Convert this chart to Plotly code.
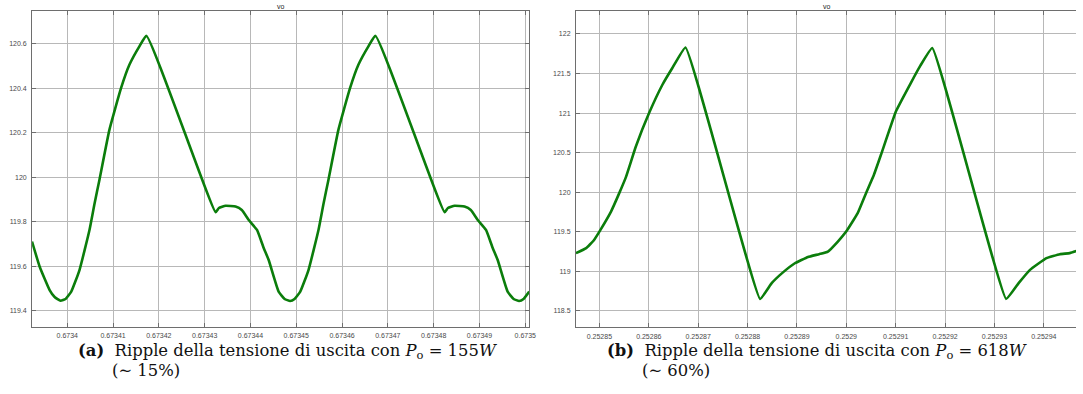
import plotly.graph_objects as go

W, H = 1083, 394

# ---------------- data ----------------
t_a = [0.6733923, 0.67339398, 0.67339615, 0.67339724, 0.67339854, 0.67339963, 0.67340087,
       0.67340267, 0.67340485, 0.67340594, 0.67340702, 0.6734092, 0.67341174, 0.67341354,
       0.67341572, 0.6734173, 0.67343239, 0.67343311, 0.67343457, 0.67343674, 0.67343811,
       0.67343963, 0.67344143, 0.67344289, 0.67344398, 0.67344615, 0.67344746, 0.67344865,
       0.67344963, 0.67345087, 0.67345267, 0.67345485, 0.67345594, 0.67345702, 0.6734592,
       0.67346174, 0.67346354, 0.67346572, 0.6734673, 0.67348239, 0.67348311, 0.67348457,
       0.67348674, 0.67348811, 0.67348963, 0.67349143, 0.67349289, 0.67349398, 0.67349615,
       0.67349746, 0.67349865, 0.67349963, 0.67350087]
vo_a = [119.711, 119.598, 119.493, 119.462, 119.445, 119.453, 119.486,
        119.583, 119.763, 119.880, 119.988, 120.213, 120.400, 120.504,
        120.587, 120.635, 119.843, 119.862, 119.872, 119.868, 119.853,
        119.808, 119.763, 119.682, 119.628, 119.486, 119.453, 119.444,
        119.453, 119.486, 119.583, 119.763, 119.880, 119.988, 120.213,
        120.400, 120.504, 120.587, 120.635, 119.843, 119.862, 119.872,
        119.868, 119.853, 119.808, 119.763, 119.682, 119.628, 119.486,
        119.453, 119.444, 119.453, 119.486]

t_b = [0.25284525, 0.25284732, 0.2528488, 0.25285, 0.25285235, 0.25285402, 0.25285537,
       0.25285738, 0.25286006, 0.25286276, 0.25286477, 0.25286744, 0.25288254, 0.25288489,
       0.252887, 0.25288958, 0.25289225, 0.2528945, 0.25289628, 0.25289829, 0.25289998,
       0.25290231, 0.252904, 0.2529056, 0.25290702, 0.25291004, 0.25291306, 0.252915,
       0.25291741, 0.25293237, 0.2529349, 0.2529372, 0.25294054, 0.25294324, 0.25294525,
       0.252947]
vo_b = [119.228, 119.291, 119.385, 119.501, 119.754, 119.987, 120.190,
        120.577, 121.000, 121.358, 121.570, 121.830, 118.649, 118.848,
        118.975, 119.100, 119.180, 119.215, 119.248, 119.375, 119.501,
        119.734, 119.987, 120.220, 120.472, 121.020, 121.380, 121.600,
        121.823, 118.649, 118.848, 119.016, 119.165, 119.215, 119.228,
        119.262]

xt_a = [0.6734, 0.67341, 0.67342, 0.67343, 0.67344, 0.67345, 0.67346, 0.67347, 0.67348, 0.67349, 0.6735]
xl_a = ["0.6734", "0.67341", "0.67342", "0.67343", "0.67344", "0.67345", "0.67346", "0.67347", "0.67348", "0.67349", "0.6735"]
yt_a = [119.4, 119.6, 119.8, 120.0, 120.2, 120.4, 120.6]
yl_a = ["119.4", "119.6", "119.8", "120", "120.2", "120.4", "120.6"]

xt_b = [0.25285, 0.25286, 0.25287, 0.25288, 0.25289, 0.2529, 0.25291, 0.25292, 0.25293, 0.25294]
xl_b = ["0.25285", "0.25286", "0.25287", "0.25288", "0.25289", "0.2529", "0.25291", "0.25292", "0.25293", "0.25294"]
yt_b = [118.5, 119.0, 119.5, 120.0, 120.5, 121.0, 121.5, 122.0]
yl_b = ["118.5", "119", "119.5", "120", "120.5", "121", "121.5", "122"]

title_txt = "vo"
cap_a1 = "<b>(a)</b>  Ripple della tensione di uscita con <i>P</i><sub>o</sub> = 155<i>W</i>"
cap_a2 = "(∼ 15%)"
cap_b1 = "<b>(b)</b>  Ripple della tensione di uscita con <i>P</i><sub>o</sub> = 618<i>W</i>"
cap_b2 = "(∼ 60%)"

# ---------------- figure ----------------
def px(x):
    return x / W

def py(y):
    return 1 - y / H

GREEN = "#0b7d0b"
GRID = "#b8b8b8"
AX = "#6e6e6e"
TICKF = dict(family="Liberation Sans, Arial, sans-serif", size=7, color="#4a4a4a")

fig = go.Figure()
fig.add_trace(go.Scatter(x=t_a, y=vo_a, mode="lines",
                         line=dict(color=GREEN, width=2.6, shape="spline", smoothing=0.4),
                         xaxis="x", yaxis="y", showlegend=False, hoverinfo="skip"))
fig.add_trace(go.Scatter(x=t_b, y=vo_b, mode="lines",
                         line=dict(color=GREEN, width=2.6, shape="spline", smoothing=0.3),
                         xaxis="x2", yaxis="y2", showlegend=False, hoverinfo="skip"))

common_x = dict(showgrid=True, gridcolor=GRID, gridwidth=1, showline=True, linecolor=AX,
                linewidth=1, mirror="ticks", ticks="inside", ticklen=4, tickcolor=AX,
                tickfont=TICKF, zeroline=False, tickmode="array", ticklabelstandoff=2)
common_y = dict(showgrid=True, gridcolor=GRID, gridwidth=1, showline=True, linecolor=AX,
                linewidth=1, ticks="inside", ticklen=4, tickcolor=AX,
                tickfont=TICKF, zeroline=False, tickmode="array", ticklabelstandoff=3)

ytop, ybot = 11, 327
fig.update_layout(
    width=W, height=H, margin=dict(l=0, r=0, t=0, b=0),
    paper_bgcolor="white", plot_bgcolor="white",
    xaxis=dict(domain=[px(32.3), px(532.6)], range=[0.67339232, 0.67350085],
               tickvals=xt_a, ticktext=xl_a, anchor="y", **common_x),
    yaxis=dict(domain=[py(ybot), py(ytop)], range=[119.327, 120.747],
               tickvals=yt_a, ticktext=yl_a, anchor="x", mirror="ticks", **common_y),
    xaxis2=dict(domain=[px(579.7), 1.0], range=[0.25284525, 0.25294652],
                tickvals=xt_b, ticktext=xl_b, anchor="y2", **common_x),
    yaxis2=dict(domain=[py(ybot + 0.3), py(ytop + 0.3)], range=[118.29, 122.287],
                tickvals=yt_b, ticktext=yl_b, anchor="x2", mirror=False, **common_y),
)

ann = []
for xc in (282.4, 832.3):
    ann.append(dict(x=px(xc), y=py(6), xref="paper", yref="paper", text=title_txt, showarrow=False,
                    xanchor="center", yanchor="middle",
                    font=dict(family="Liberation Sans, Arial, sans-serif", size=7, color="#222")))
CAPF = dict(family="DejaVu Serif, serif", size=16.4, color="#111")
for x0, x1, l1, l2 in [(76, 111, cap_a1, cap_a2), (609, 644, cap_b1, cap_b2)]:
    ann.append(dict(x=px(x0), y=py(351), xref="paper", yref="paper", text=l1, showarrow=False,
                    xanchor="left", yanchor="middle", font=CAPF))
    ann.append(dict(x=px(x1), y=py(370), xref="paper", yref="paper", text=l2, showarrow=False,
                    xanchor="left", yanchor="middle", font=CAPF))
fig.update_layout(annotations=ann)

fig.write_html("out.html")
